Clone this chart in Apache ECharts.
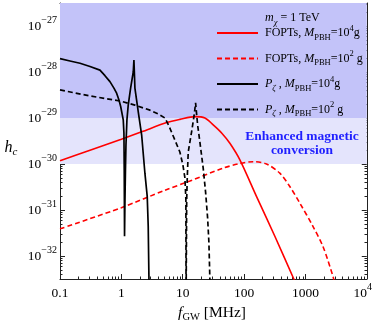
<!DOCTYPE html>
<html>
<head>
<meta charset="utf-8">
<script src="https://cdn.jsdelivr.net/npm/echarts@6/dist/echarts.min.js"></script>
<style>
  html, body { margin: 0; padding: 0; background: #fff; }
  #chart { width: 379px; height: 325px; }
</style>
</head>
<body>
<div id="chart"></div>
<script>
// all values are log10: x = log10(f_GW / MHz), y = log10(h_c)

// FOPTs, M_PBH = 1e4 g  (red solid)
var foptsHeavyF = [-1.0, -0.511, 0.0, 0.331, 0.738, 0.954, 1.199, 1.362, 1.497, 1.638, 1.769, 1.932, 2.208, 2.502, 2.811, 2.876];
var foptsHeavyH = [-29.93, -29.70, -29.46, -29.30, -29.10, -29.03, -28.97, -29.0, -29.15, -29.33, -29.55, -29.91, -30.72, -31.57, -32.5, -32.7];

// FOPTs, M_PBH = 1e2 g  (red dashed)
var foptsLightF = [-1.0, 0.0, 0.710, 1.117, 1.660, 1.932, 2.148, 2.366, 2.583, 2.746, 2.909, 3.125, 3.288, 3.451, 3.479];
var foptsLightH = [-31.41, -30.95, -30.57, -30.37, -30.09, -29.99, -29.95, -30.0, -30.20, -30.49, -30.85, -31.36, -31.80, -32.45, -32.63];

// P_zeta, M_PBH = 1e4 g  (black solid)
var pzHeavyF = [-1.0, -0.837, -0.674, -0.511, -0.349, -0.267, -0.186, -0.121, -0.077, -0.039, -0.011, 0.031, 0.042, 0.047, 0.052, 0.059, 0.067, 0.075, 0.091, 0.112, 0.151, 0.194, 0.205, 0.221, 0.275, 0.331, 0.384, 0.422, 0.438, 0.450, 0.452];
var pzHeavyH = [-27.71, -27.76, -27.81, -27.88, -27.96, -28.08, -28.21, -28.35, -28.46, -28.61, -28.75, -29.04, -29.33, -30.13, -31.57, -30.78, -30.13, -29.59, -29.04, -28.72, -28.35, -28.0, -27.74, -28.35, -28.86, -29.37, -30.20, -30.71, -31.36, -32.52, -32.96];

// P_zeta, M_PBH = 1e2 g  (black dashed)
var pzLightF = [-1.0, -0.511, -0.023, 0.221, 0.466, 0.596, 0.710, 0.775, 0.873, 0.954, 1.003, 1.036, 1.052, 1.055, 1.060, 1.065, 1.073, 1.090, 1.145, 1.187, 1.210, 1.243, 1.280, 1.334, 1.373, 1.406, 1.427, 1.443, 1.446];
var pzLightH = [-28.39, -28.52, -28.63, -28.72, -28.83, -28.91, -29.0, -29.17, -29.48, -29.74, -30.02, -30.30, -30.78, -33.0, -33.0, -30.78, -30.35, -29.74, -29.30, -28.94, -28.67, -29.15, -29.52, -30.09, -30.61, -31.17, -31.70, -32.5, -32.96];

var xMajor = [-1, 0, 1, 2, 3, 4];
var xLabels = ['0.1', '1', '10', '100', '1000', '10^4'];
var yMajor = [-32, -31, -30, -29, -28, -27];

var serif = 'Liberation Serif';

function pairs(f, h) {
  return f.map(function (v, i) { return [v, h[i]]; });
}

// log minor ticks 2..9 within each decade
function minorTicks(lo, hi, from, to) {
  var out = [];
  for (var n = lo; n < hi; n++) {
    for (var k = 2; k < 10; k++) {
      var v = n + Math.log10(k);
      if (v > from && v < to) out.push(v);
    }
  }
  return out;
}

var labelRich = {
  b: { fontFamily: serif, fontSize: 13.5, color: '#000', lineHeight: 22 },
  s: { fontFamily: serif, fontSize: 10, color: '#000', lineHeight: 22, verticalAlign: 'top' },
  p: { width: 8 }
};

var legendRich = {
  r: { fontFamily: serif, fontSize: 12, fontWeight: 'normal', color: '#000', lineHeight: 18 },
  i: { fontFamily: serif, fontSize: 12, fontWeight: 'normal', fontStyle: 'italic', color: '#000', lineHeight: 18 },
  sub: { fontFamily: serif, fontSize: 8.5, fontWeight: 'normal', color: '#000', lineHeight: 18, verticalAlign: 'bottom' },
  isub: { fontFamily: serif, fontSize: 8.5, fontWeight: 'normal', fontStyle: 'italic', color: '#000', lineHeight: 18, verticalAlign: 'bottom' },
  sup: { fontFamily: serif, fontSize: 8.5, fontWeight: 'normal', color: '#000', lineHeight: 18, verticalAlign: 'top' }
};

var legendText = {
  'foptsHeavy': '{r|FOPTs, }{i|M}{sub|PBH}{r|=10}{sup|4}{r|g}',
  'foptsLight': '{r|FOPTs, }{i|M}{sub|PBH}{r|=10}{sup|2}{r| g}',
  'pzHeavy': '{i|P}{isub|ζ}{r| , }{i|M}{sub|PBH}{r|=10}{sup|4}{r|g}',
  'pzLight': '{i|P}{isub|ζ}{r| , }{i|M}{sub|PBH}{r|=10}{sup|2}{r| g}'
};

var frame = { show: true, onZero: false, lineStyle: { color: '#222', width: 1 } };

function xAxisOf(grid, pos, ticks, len, withLabels) {
  return {
    gridIndex: grid, type: 'value', min: -1, max: 4, position: pos,
    axisLine: grid === 0 ? frame : { show: false, onZero: false },
    axisTick: { show: true, inside: true, length: len, customValues: ticks, lineStyle: { color: '#222', width: 1 } },
    axisLabel: withLabels ? {
      show: true, customValues: xMajor, margin: 3,
      formatter: function (v) {
        var s = xLabels[xMajor.indexOf(Math.round(v))];
        if (s === '10^4') return '{b|10}{s|4}{p|}';
        return '{b|' + s + '}';
      },
      rich: labelRich
    } : { show: false },
    splitLine: { show: false }
  };
}

function yAxisOf(grid, pos, ticks, len, withLabels) {
  return {
    gridIndex: grid, type: 'value', min: -32.5, max: -26.5, position: pos,
    axisLine: grid === 0 ? frame : { show: false, onZero: false },
    axisTick: { show: true, inside: true, length: len, customValues: ticks, lineStyle: { color: '#222', width: 1 } },
    axisLabel: withLabels ? {
      show: true, customValues: yMajor, margin: 3,
      formatter: function (v) {
        return '{b|10}{s|\u2212' + Math.abs(Math.round(v)) + '}';
      },
      rich: labelRich
    } : { show: false },
    splitLine: { show: false }
  };
}

var xMinor = minorTicks(-1, 4, -1, 4);
var yMinor = minorTicks(-33, -26, -32.5, -26.5);

var chart = echarts.init(document.getElementById('chart'));

var option = {
  animation: false,
  backgroundColor: '#fff',
  grid: [
    { left: 60, top: 3, width: 307, height: 276 },
    { left: 60, top: 3, width: 307, height: 276 }
  ],
  xAxis: [
    xAxisOf(0, 'bottom', xMajor, 5, true),
    xAxisOf(0, 'top', xMajor, 5, false),
    xAxisOf(1, 'bottom', xMinor, 2.5, false),
    xAxisOf(1, 'top', xMinor, 2.5, false)
  ],
  yAxis: [
    yAxisOf(0, 'left', yMajor, 5, true),
    yAxisOf(0, 'right', yMajor, 5, false),
    yAxisOf(1, 'left', yMinor, 2.5, false),
    yAxisOf(1, 'right', yMinor, 2.5, false)
  ],
  title: {
    text: '{i|m}{isub|χ}{r| = 1 TeV}',
    left: 265, top: 9, padding: 0,
    textStyle: { fontWeight: 'normal', rich: legendRich }
  },
  legend: {
    data: ['foptsHeavy', 'foptsLight', 'pzHeavy', 'pzLight'],
    orient: 'vertical',
    left: 216, top: 24, padding: 0,
    itemWidth: 41, itemHeight: 10, itemGap: 7.5,
    itemStyle: { opacity: 0 },
    formatter: function (name) { return legendText[name]; },
    textStyle: { rich: legendRich, padding: [0, 0, 0, 2] }
  },
  graphic: [
    {
      type: 'text', x: 302, y: 143.7, z: 10,
      style: {
        text: 'Enhanced magnetic\nconversion',
        align: 'center', verticalAlign: 'middle',
        font: 'bold 13.5px "Liberation Serif"', lineHeight: 14,
        fill: '#1f1fff'
      }
    },
    {
      type: 'text', x: 11, y: 148,
      style: {
        text: '{i|h}{s|c}', align: 'center', verticalAlign: 'middle',
        rich: {
          i: { fontFamily: serif, fontSize: 16, fontStyle: 'italic', fill: '#000', lineHeight: 20 },
          s: { fontFamily: serif, fontSize: 11, fontStyle: 'italic', fill: '#000', lineHeight: 20, verticalAlign: 'bottom' }
        }
      }
    },
    {
      type: 'text', x: 212, y: 313,
      style: {
        text: '{i|f}{s|GW}{r| [MHz]}', align: 'center', verticalAlign: 'middle',
        rich: {
          i: { fontFamily: serif, fontSize: 15.5, fontStyle: 'italic', fill: '#000', lineHeight: 20 },
          s: { fontFamily: serif, fontSize: 10.5, fill: '#000', lineHeight: 20, verticalAlign: 'bottom' },
          r: { fontFamily: serif, fontSize: 15.5, fill: '#000', lineHeight: 20 }
        }
      }
    }
  ],
  series: [
    {
      name: 'bands', type: 'line', data: [], silent: true,
      markArea: {
        silent: true,
        data: [
          [{ xAxis: -1, yAxis: -29, itemStyle: { color: '#c3c3f9' } }, { xAxis: 4, yAxis: -26.5 }],
          [{ xAxis: -1, yAxis: -30, itemStyle: { color: '#e4e4fc' } }, { xAxis: 4, yAxis: -29 }]
        ]
      }
    },
    {
      name: 'foptsHeavy', type: 'line', data: pairs(foptsHeavyF, foptsHeavyH),
      symbol: 'none', smooth: 0.3, color: '#ff0000',
      lineStyle: { color: '#ff0000', width: 1.6 }
    },
    {
      name: 'foptsLight', type: 'line', data: pairs(foptsLightF, foptsLightH),
      symbol: 'none', smooth: 0.3, color: '#ff0000',
      lineStyle: { color: '#ff0000', width: 1.6, type: [5, 3] }
    },
    {
      name: 'pzHeavy', type: 'line', data: pairs(pzHeavyF, pzHeavyH),
      symbol: 'none', color: '#000',
      lineStyle: { color: '#000', width: 1.7 }
    },
    {
      name: 'pzLight', type: 'line', data: pairs(pzLightF, pzLightH),
      symbol: 'none', color: '#000',
      lineStyle: { color: '#000', width: 1.7, type: [5, 3] }
    }
  ]
};

chart.setOption(option);
</script>
</body>
</html>
